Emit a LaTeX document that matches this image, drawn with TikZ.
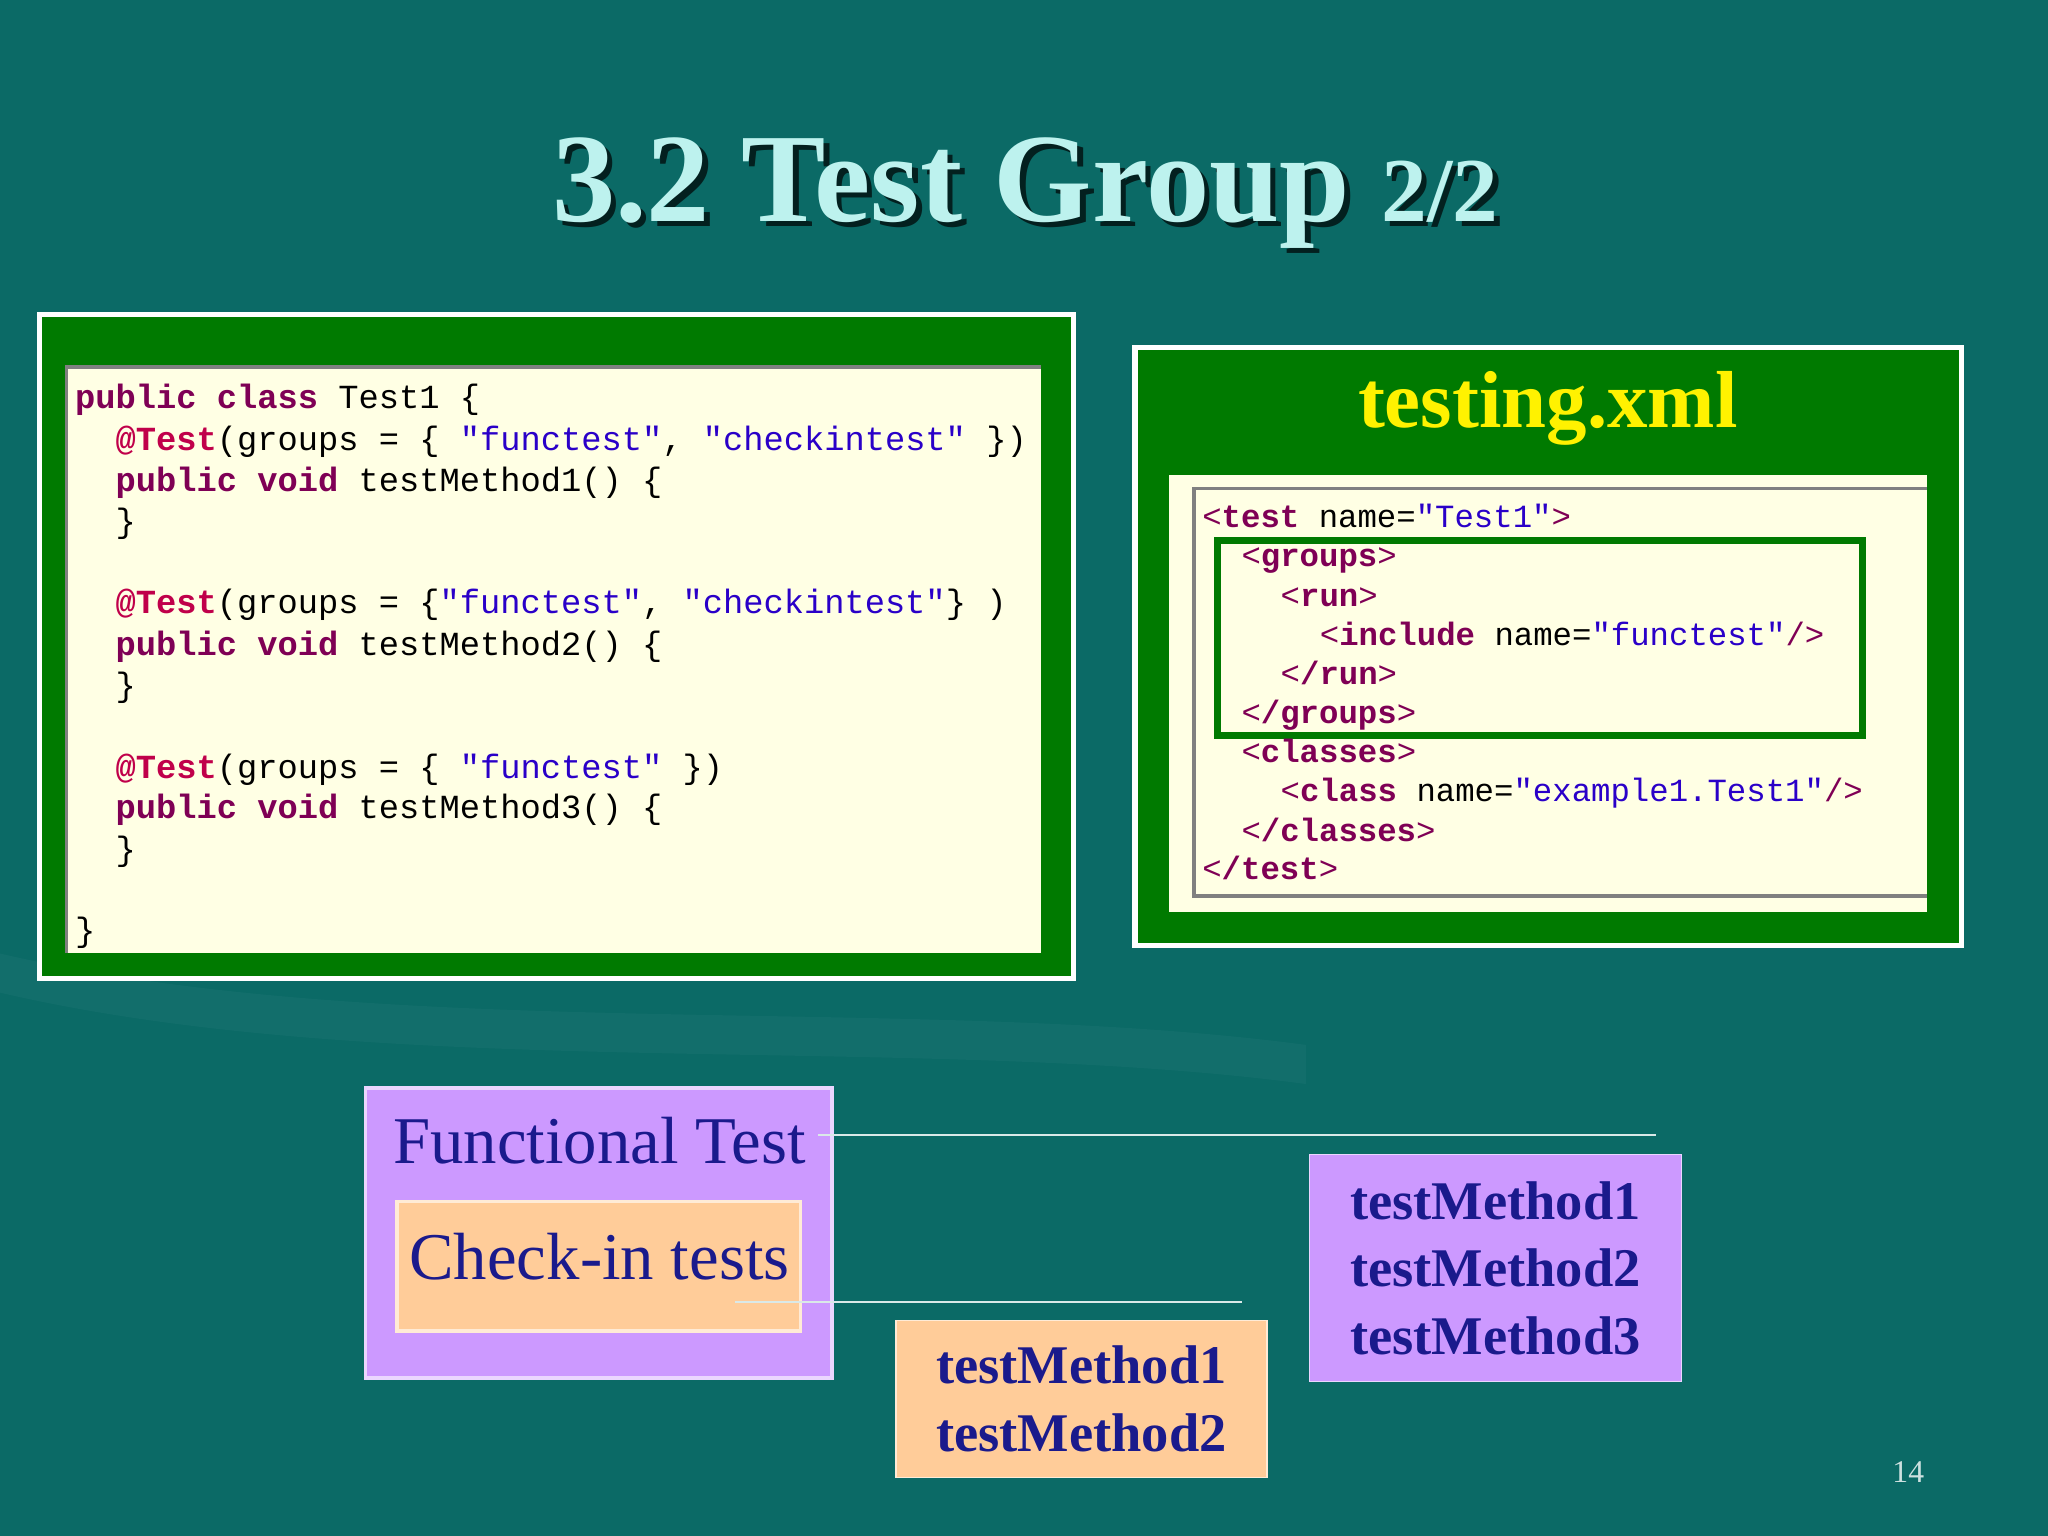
\documentclass[tikz,border=0pt]{standalone}
\usepackage{fontspec}
\setmainfont{Liberation Serif}
\newfontfamily\codefont{Liberation Mono}
\definecolor{bg}{HTML}{0B6A66}
\definecolor{ttl}{HTML}{BDF2EE}
\definecolor{pgreen}{HTML}{007A00}
\definecolor{paper}{HTML}{FFFFE4}
\definecolor{kwc}{HTML}{7F0055}
\definecolor{anc}{HTML}{C0004A}
\definecolor{stc}{HTML}{2A00C8}
\definecolor{lil}{HTML}{CC99FF}
\definecolor{ora}{HTML}{FFCC99}
\definecolor{txb}{HTML}{1A1A8C}
\newcommand{\kwx}[1]{\textcolor{kwc}{\bfseries #1}}
\newcommand{\anx}[1]{\textcolor{anc}{\bfseries #1}}
\newcommand{\strx}[1]{\textcolor{stc}{#1}}
\newcommand{\tg}[1]{\textcolor{kwc}{<\textbf{#1}}}
\newcommand{\gt}{\textcolor{kwc}{>}}
\tikzset{
 code/.style={anchor=base west,inner sep=0pt,font=\codefont\fontsize{9.6}{10}\selectfont},
 xcode/.style={anchor=base west,inner sep=0pt,font=\codefont\fontsize{9.2}{10}\selectfont},
 big/.style={text=txb,font=\fontsize{19}{22}\selectfont},
 meth/.style={text=txb,font=\bfseries\fontsize{15.5}{19.3}\selectfont,align=center},
 conn/.style={draw=white!85!bg,line width=0.6pt}
}
\begin{document}
\begin{tikzpicture}[x=0.013061cm,y=-0.013061cm]
\fill[bg] (0,0) rectangle (1568,1176);
\useasboundingbox (0,0) rectangle (1568,1176);
\fill[white!3!bg] (0,730) .. controls (300,800) and (700,760) .. (1000,800) -- (1000,830) .. controls (700,790) and (300,830) .. (0,760) -- cycle;
% title
\node[text=black!70!bg,font=\bfseries\fontsize{36}{40}\selectfont] at (789,152) {3.2 Test Group {\fontsize{26}{30}\selectfont 2/2}};
\node[text=ttl,font=\bfseries\fontsize{36}{40}\selectfont] (title) at (785,148) {3.2 Test Group {\fontsize{26}{30}\selectfont 2/2}};
% left panel
\draw[white,line width=1.5pt,fill=pgreen] (30,241) rectangle (822,749);
\fill[paper] (50,280) rectangle (797,730);
\draw[gray,line width=1pt] (51,730) -- (51,281) -- (797,281);
\node[code] (c1) at (57,313) {\kwx{public} \kwx{class} Test1 \{};
\node[code] (c2) at (88,345) {\anx{@Test}(groups = \{ \strx{"functest"}, \strx{"checkintest"} \})};
\node[code] (c3) at (88,376) {\kwx{public} \kwx{void} testMethod1() \{};
\node[code] (c4) at (88,408) {\}};
\node[code] (c5) at (88,470) {\anx{@Test}(groups = \{\strx{"functest"}, \strx{"checkintest"}\} )};
\node[code] (c6) at (88,502) {\kwx{public} \kwx{void} testMethod2() \{};
\node[code] (c7) at (88,533) {\}};
\node[code] (c8) at (88,596) {\anx{@Test}(groups = \{ \strx{"functest"} \})};
\node[code] (c9) at (88,627) {\kwx{public} \kwx{void} testMethod3() \{};
\node[code] (c10) at (88,659) {\}};
\node[code] (c11) at (57,721) {\}};
% right panel
\draw[white,line width=1.5pt,fill=pgreen] (869,266) rectangle (1502,724);
\node[text=yellow,font=\bfseries\fontsize{23}{26}\selectfont] (xt) at (1185,313) {testing.xml};
\fill[paper] (895,364) rectangle (1475,698);
\draw[gray,line width=1pt] (1475,686) -- (914,686) -- (914,374) -- (1475,374);
\draw[pgreen,line width=2pt] (932,414) rectangle (1426,563);
\node[xcode] (x1) at (920,404) {\tg{test} name=\strx{"Test1"}\gt};
\node[xcode] (x2) at (950,434) {\tg{groups}\gt};
\node[xcode] (x3) at (980,464) {\tg{run}\gt};
\node[xcode] (x4) at (1010,494) {\tg{include} name=\strx{"functest"}\textcolor{kwc}{/>}};
\node[xcode] (x5) at (980,524) {\tg{/run}\gt};
\node[xcode] (x6) at (950,554) {\tg{/groups}\gt};
\node[xcode] (x7) at (950,584) {\tg{classes}\gt};
\node[xcode] (x8) at (980,614) {\tg{class} name=\strx{"example1.Test1"}\textcolor{kwc}{/>}};
\node[xcode] (x9) at (950,644) {\tg{/classes}\gt};
\node[xcode] (x10) at (920,673) {\tg{/test}\gt};
% bottom
\draw[white!60!lil,line width=1pt,fill=lil] (280,833) rectangle (637,1055);
\node[big] (ft) at (459,873) {Functional Test};
\draw[white!60!ora,line width=1pt,fill=ora] (304,920) rectangle (613,1019);
\node[big] (ci) at (459,962) {Check-in tests};
\node[draw=white!60!ora,fill=ora,inner sep=0pt,minimum width=3.71cm,minimum height=1.57cm,meth] (m12) at (828,1071) {testMethod1\\testMethod2};
\node[draw=white!60!lil,fill=lil,inner sep=0pt,minimum width=3.72cm,minimum height=2.27cm,meth] (m123) at (1145,971) {testMethod1\\testMethod2\\testMethod3};
\coordinate (e1) at (1268,869);
\coordinate (e2) at (951,997);
\draw[conn] (ft.east) ++(0,-4) -- (e1);
\draw[conn] (563,997) -- (e2);
\node[text=white!80!bg,font=\fontsize{9}{10}\selectfont] (pg) at (1461,1127) {14};
\end{tikzpicture}
\end{document}
